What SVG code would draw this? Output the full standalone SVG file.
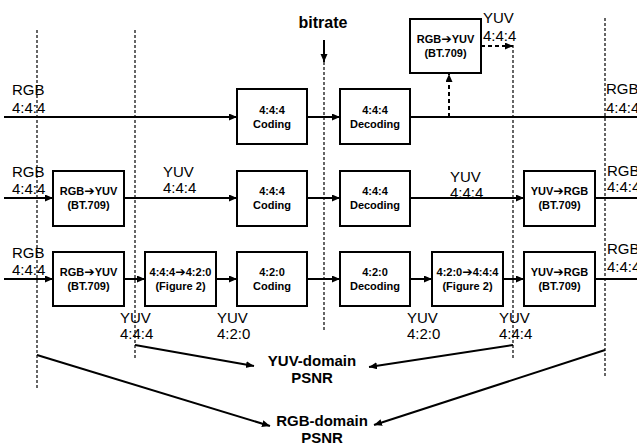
<svg xmlns="http://www.w3.org/2000/svg" width="637" height="446" viewBox="0 0 637 446">
<defs>
<marker id="ah" markerUnits="userSpaceOnUse" markerWidth="9" markerHeight="8" refX="8" refY="3.5" orient="auto"><path d="M0,0 L8,3.5 L0,7 z" fill="#000"/></marker>
<style>
.bg{fill:#fff}
.box{fill:#fff;stroke:#000;stroke-width:2}
.bt{font-family:"Liberation Sans",Arial,sans-serif;font-weight:bold;font-size:11px;text-anchor:middle;fill:#000}
.ax{font-family:"DejaVu Sans",sans-serif;font-weight:bold;font-size:12.5px}
.lb{font-family:"Liberation Sans",Arial,sans-serif;font-size:15px;fill:#000}
.hd{font-family:"Liberation Sans",Arial,sans-serif;font-weight:bold;font-size:15px;text-anchor:middle;fill:#000}
.ln{stroke:#000;stroke-width:2;fill:none}
.ar{stroke:#000;stroke-width:2;fill:none;marker-end:url(#ah)}
.da{stroke:#000;stroke-width:2;stroke-dasharray:4,3;fill:none;marker-end:url(#ah)}
.dv{stroke:#000;stroke-width:1.2;stroke-dasharray:3,2;fill:none}
</style>
</defs>
<rect class="bg" x="0" y="0" width="637" height="446"/>
<g id="guides">
<line class="dv" x1="37" y1="30" x2="37" y2="388"/>
<line class="dv" x1="135" y1="30" x2="135" y2="359"/>
<line class="dv" x1="324" y1="62" x2="324" y2="332"/>
<line class="dv" x1="513" y1="45" x2="513" y2="359"/>
<line class="dv" x1="605" y1="18" x2="605" y2="378"/>
</g>
<g id="connectors">
<line class="ar" x1="324" y1="40" x2="324" y2="62"/>
<line class="ar" x1="4" y1="117" x2="237" y2="117"/>
<line class="ar" x1="307" y1="117" x2="340" y2="117"/>
<line class="ln" x1="410" y1="117" x2="637" y2="117"/>
<line class="da" x1="449" y1="117" x2="449" y2="74"/>
<line class="da" x1="481" y1="46" x2="513" y2="46"/>
<line class="ar" x1="4" y1="198" x2="53" y2="198"/>
<line class="ar" x1="124" y1="198" x2="237" y2="198"/>
<line class="ar" x1="307" y1="198" x2="340" y2="198"/>
<line class="ar" x1="410" y1="198" x2="524" y2="198"/>
<line class="ln" x1="595" y1="198" x2="637" y2="198"/>
<line class="ar" x1="4" y1="279" x2="53" y2="279"/>
<line class="ar" x1="124" y1="279" x2="145" y2="279"/>
<line class="ar" x1="216" y1="279" x2="237" y2="279"/>
<line class="ar" x1="307" y1="279" x2="340" y2="279"/>
<line class="ar" x1="410" y1="279" x2="432" y2="279"/>
<line class="ar" x1="503" y1="279" x2="524" y2="279"/>
<line class="ln" x1="595" y1="279" x2="637" y2="279"/>
<line class="ar" x1="135" y1="345" x2="254" y2="366"/>
<line class="ar" x1="513" y1="345" x2="369" y2="367"/>
<line class="ar" x1="37" y1="355" x2="270" y2="426"/>
<line class="ar" x1="605" y1="350" x2="374" y2="425"/>
</g>
<g id="n_c1"><rect class="box" x="237" y="89" width="70" height="55"/><text class="bt" x="272" y="114">4:4:4</text><text class="bt" x="272" y="128">Coding</text></g>
<g id="n_d1"><rect class="box" x="340" y="89" width="70" height="55"/><text class="bt" x="375" y="114">4:4:4</text><text class="bt" x="375" y="128">Decoding</text></g>
<g id="n_top"><rect class="box" x="410" y="19" width="71" height="54"/><text class="bt" x="445.5" y="43">RGB<tspan class="ax">➔</tspan>YUV</text><text class="bt" x="445.5" y="57">(BT.709)</text></g>
<g id="n_r2a"><rect class="box" x="53" y="171" width="71" height="55"/><text class="bt" x="88.5" y="195">RGB<tspan class="ax">➔</tspan>YUV</text><text class="bt" x="88.5" y="209">(BT.709)</text></g>
<g id="n_c2"><rect class="box" x="237" y="171" width="70" height="55"/><text class="bt" x="272" y="195">4:4:4</text><text class="bt" x="272" y="209">Coding</text></g>
<g id="n_d2"><rect class="box" x="340" y="171" width="70" height="55"/><text class="bt" x="375" y="195">4:4:4</text><text class="bt" x="375" y="209">Decoding</text></g>
<g id="n_r2b"><rect class="box" x="524" y="171" width="71" height="55"/><text class="bt" x="559.5" y="195">YUV<tspan class="ax">➔</tspan>RGB</text><text class="bt" x="559.5" y="209">(BT.709)</text></g>
<g id="n_r3a"><rect class="box" x="53" y="252" width="71" height="54"/><text class="bt" x="88.5" y="276">RGB<tspan class="ax">➔</tspan>YUV</text><text class="bt" x="88.5" y="290">(BT.709)</text></g>
<g id="n_ds"><rect class="box" x="145" y="252" width="71" height="54"/><text class="bt" x="180.5" y="276">4:4:4<tspan class="ax">➔</tspan>4:2:0</text><text class="bt" x="180.5" y="290">(Figure 2)</text></g>
<g id="n_c3"><rect class="box" x="237" y="252" width="70" height="54"/><text class="bt" x="272" y="276">4:2:0</text><text class="bt" x="272" y="290">Coding</text></g>
<g id="n_d3"><rect class="box" x="340" y="252" width="70" height="54"/><text class="bt" x="375" y="276">4:2:0</text><text class="bt" x="375" y="290">Decoding</text></g>
<g id="n_us"><rect class="box" x="432" y="252" width="71" height="54"/><text class="bt" x="467.5" y="276">4:2:0<tspan class="ax">➔</tspan>4:4:4</text><text class="bt" x="467.5" y="290">(Figure 2)</text></g>
<g id="n_r3b"><rect class="box" x="524" y="252" width="71" height="54"/><text class="bt" x="559.5" y="276">YUV<tspan class="ax">➔</tspan>RGB</text><text class="bt" x="559.5" y="290">(BT.709)</text></g>
<g id="labels">
<text x="323" y="28" style="font-family:'Liberation Sans',Arial,sans-serif;font-weight:bold;font-size:16px;text-anchor:middle">bitrate</text>
<text class="lb" x="12" y="95">RGB</text><text class="lb" x="12" y="113">4:4:4</text>
<text class="lb" x="483" y="23">YUV</text><text class="lb" x="483" y="41">4:4:4</text>
<text class="lb" x="606" y="94">RGB</text><text class="lb" x="606" y="113">4:4:4</text>
<text class="lb" x="12" y="177">RGB</text><text class="lb" x="12" y="194">4:4:4</text>
<text class="lb" x="163" y="177">YUV</text><text class="lb" x="163" y="193">4:4:4</text>
<text class="lb" x="450" y="182">YUV</text><text class="lb" x="450" y="198">4:4:4</text>
<text class="lb" x="607" y="176">RGB</text><text class="lb" x="607" y="192">4:4:4</text>
<text class="lb" x="12" y="258">RGB</text><text class="lb" x="12" y="275">4:4:4</text>
<text class="lb" x="607" y="254">RGB</text><text class="lb" x="607" y="272">4:4:4</text>
<text class="lb" x="120" y="323">YUV</text><text class="lb" x="120" y="339">4:4:4</text>
<text class="lb" x="217" y="323">YUV</text><text class="lb" x="217" y="339">4:2:0</text>
<text class="lb" x="407" y="323">YUV</text><text class="lb" x="407" y="339">4:2:0</text>
<text class="lb" x="499" y="323">YUV</text><text class="lb" x="499" y="339">4:4:4</text>
<text class="hd" x="312" y="366">YUV-domain</text><text class="hd" x="312" y="383">PSNR</text>
<text class="hd" x="322" y="426">RGB-domain</text><text class="hd" x="322" y="443">PSNR</text>
</g>
</svg>
